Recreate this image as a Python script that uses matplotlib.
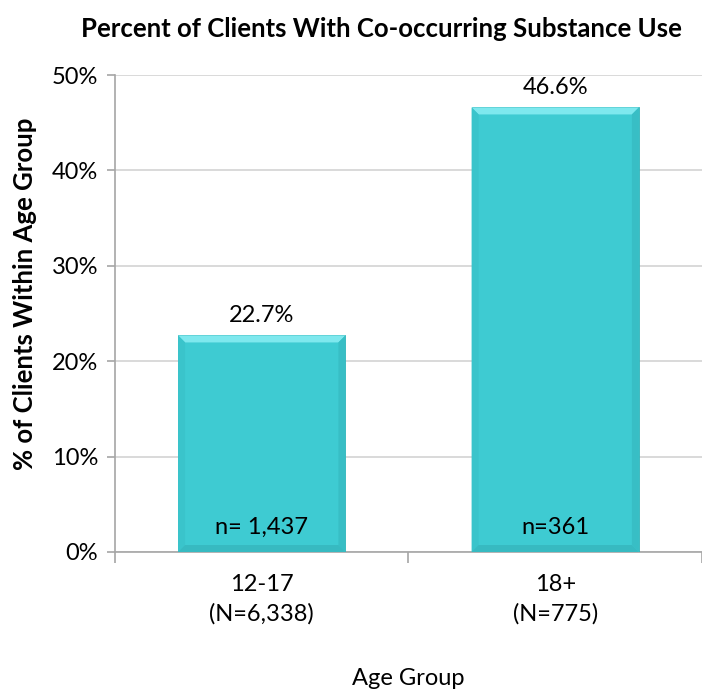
import matplotlib.pyplot as plt
from matplotlib.patches import Polygon

plt.rcParams['font.family'] = ['Lato', 'DejaVu Sans']

# data
age_groups = ['12-17\n(N=6,338)', '18+\n(N=775)']
pct_values = [22.7, 46.6]
n_labels = ['n= 1,437', 'n=361']

bar_color = '#3ECBD2'
fig = plt.figure(figsize=(7.02, 6.9), dpi=100)
ax = fig.add_axes([0.1638, 0.2, 0.8362, 0.6913])

x = list(range(len(age_groups)))
bars = ax.bar(x, pct_values, width=0.57, color=bar_color, edgecolor='#33B3B9',
              linewidth=0.6, zorder=3)

ax.set_xlim(-0.5, len(age_groups) - 0.5)
ax.set_ylim(0, 50)
ax.set_yticks(range(0, 51, 10))
ax.set_yticklabels([f'{v}%' for v in range(0, 51, 10)], fontsize=17)
ax.set_xticks(x)
ax.set_xticklabels(age_groups, fontsize=17, linespacing=1.45)
ax.tick_params(axis='x', length=0, pad=16)
ax.set_xticks([-0.5, 0.5, 1.5], minor=True)
ax.tick_params(axis='x', which='minor', length=8, color='#A6A6A6', width=1.2)
ax.tick_params(axis='y', length=6, color='#A6A6A6', width=1.2, pad=6)

ax.grid(axis='y', color='#D9D9D9', linewidth=1.4, zorder=0)
ax.set_axisbelow(True)
for s in ['top', 'right']:
    ax.spines[s].set_visible(False)
for s in ['left', 'bottom']:
    ax.spines[s].set_color('#A6A6A6')
    ax.spines[s].set_linewidth(1.2)

# bevel effect
bev = 7  # pixels
inv = ax.transData.inverted()
for b in bars:
    x0, y0 = b.get_x(), 0
    x1, y1 = x0 + b.get_width(), b.get_height()
    (px0, py0) = ax.transData.transform((x0, y0))
    (px1, py1) = ax.transData.transform((x1, y1))
    def d(px, py):
        return inv.transform((px, py))
    top = [d(px0, py1), d(px1, py1), d(px1 - bev, py1 - bev), d(px0 + bev, py1 - bev)]
    left = [d(px0, py1), d(px0 + bev, py1 - bev), d(px0 + bev, py0 + bev), d(px0, py0)]
    right = [d(px1, py1), d(px1 - bev, py1 - bev), d(px1 - bev, py0 + bev), d(px1, py0)]
    bottom = [d(px0, py0), d(px0 + bev, py0 + bev), d(px1 - bev, py0 + bev), d(px1, py0)]
    ax.add_patch(Polygon(top, closed=True, color='#7EE8EE', zorder=4, lw=0))
    ax.add_patch(Polygon(left, closed=True, color='#3AC4CB', zorder=4, lw=0))
    ax.add_patch(Polygon(right, closed=True, color='#38BEC5', zorder=4, lw=0))
    ax.add_patch(Polygon(bottom, closed=True, color='#37BAC1', zorder=4, lw=0))

for xi, v, n in zip(x, pct_values, n_labels):
    ax.text(xi, v + 1.0, f'{v:.1f}%', ha='center', va='bottom', fontsize=17, zorder=5)
    ax.text(xi, 2.6, n, ha='center', va='center', fontsize=17, zorder=5)

ax.set_ylabel('% of Clients Within Age Group', fontsize=18.5, fontweight='bold')
ax.yaxis.set_label_coords(-0.133, 0.541)
fig.text(0.5815, 0.016, 'Age Group', ha='center', va='center', fontsize=17)
fig.text(0.544, 0.958, 'Percent of Clients With Co-occurring Substance Use', ha='center',
         va='center', fontsize=18.5, fontweight='bold')

fig.savefig('out.png', dpi=100)
